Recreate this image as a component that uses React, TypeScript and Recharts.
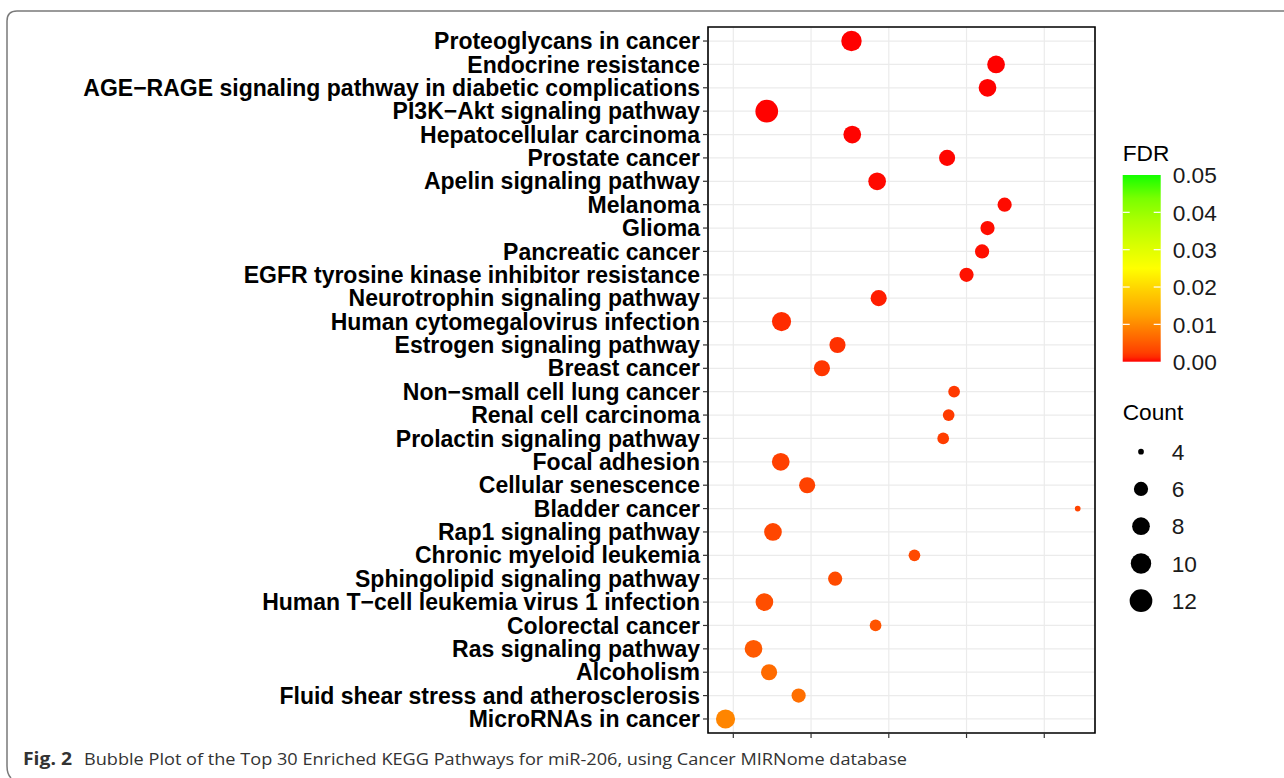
import React from 'react';
import { ScatterChart, Scatter, XAxis, YAxis, ZAxis, CartesianGrid, ReferenceArea } from 'recharts';

// KEGG pathways, top to bottom as in the figure
const pathways = [
  'Proteoglycans in cancer',
  'Endocrine resistance',
  'AGE−RAGE signaling pathway in diabetic complications',
  'PI3K−Akt signaling pathway',
  'Hepatocellular carcinoma',
  'Prostate cancer',
  'Apelin signaling pathway',
  'Melanoma',
  'Glioma',
  'Pancreatic cancer',
  'EGFR tyrosine kinase inhibitor resistance',
  'Neurotrophin signaling pathway',
  'Human cytomegalovirus infection',
  'Estrogen signaling pathway',
  'Breast cancer',
  'Non−small cell lung cancer',
  'Renal cell carcinoma',
  'Prolactin signaling pathway',
  'Focal adhesion',
  'Cellular senescence',
  'Bladder cancer',
  'Rap1 signaling pathway',
  'Chronic myeloid leukemia',
  'Sphingolipid signaling pathway',
  'Human T−cell leukemia virus 1 infection',
  'Colorectal cancer',
  'Ras signaling pathway',
  'Alcoholism',
  'Fluid shear stress and atherosclerosis',
  'MicroRNAs in cancer',
];

// x position (gene ratio, axis labels are cropped off in the source)
const geneRatio = [
  0.0352, 0.0538, 0.0527, 0.0243, 0.0353, 0.0475, 0.0385, 0.0549, 0.0527, 0.0520,
  0.0500, 0.0387, 0.0262, 0.0334, 0.0314, 0.0484, 0.0477, 0.0470, 0.0261, 0.0295,
  0.0643, 0.0251, 0.0433, 0.0331, 0.0240, 0.0383, 0.0226, 0.0246, 0.0284, 0.0190,
];

const counts = [10, 8, 8, 12, 8, 7, 8, 6, 6, 6, 6, 7, 9, 7, 7, 5, 5, 5, 8, 7, 4, 8, 5, 6, 8, 5, 8, 7, 6, 9];

const fdr = [
  0.000012, 0.00002, 0.000031, 0.000045, 0.00008, 0.00015, 0.00025, 0.00032, 0.00038, 0.00045,
  0.00052, 0.00085, 0.0013, 0.0016, 0.0019, 0.0021, 0.0022, 0.0023, 0.0025, 0.0027,
  0.0029, 0.0031, 0.0034, 0.0036, 0.0039, 0.0045, 0.005, 0.0068, 0.0072, 0.0095,
];

const xTicks = [0.02, 0.03, 0.04, 0.05, 0.06];
const fdrBreaks = [0.05, 0.04, 0.03, 0.02, 0.01, 0.0];
const countBreaks = [4, 6, 8, 10, 12];

// red -> yellow -> green, roughly as ggplot interpolates it
const fdrStops: [number, number, number, number][] = [
  [0, 255, 0, 0],
  [0.00125, 255, 43, 0],
  [0.0025, 255, 64, 0],
  [0.00625, 255, 102, 0],
  [0.0125, 255, 161, 0],
  [0.01875, 255, 206, 0],
  [0.025, 255, 255, 0],
  [0.03125, 216, 255, 0],
  [0.0375, 174, 255, 0],
  [0.04375, 121, 255, 0],
  [0.05, 20, 255, 0],
];

function fdrColor(v: number) {
  for (let i = 1; i < fdrStops.length; i++) {
    const a = fdrStops[i - 1];
    const b = fdrStops[i];
    if (v <= b[0]) {
      const t = (v - a[0]) / (b[0] - a[0]);
      const c = [1, 2, 3].map((k) => Math.round(a[k] + (b[k] - a[k]) * t));
      return `rgb(${c[0]},${c[1]},${c[2]})`;
    }
  }
  return 'rgb(20,255,0)';
}

// ZAxis gives count - 4; diameter grows with sqrt like scale_size
const bubbleDiameter = (s: number) => 5.7 + 6.01 * Math.sqrt(Math.max(s, 0));

const points = pathways.map((name, i) => ({
  name,
  rank: i + 1,
  ratio: geneRatio[i],
  count: counts[i],
  fdr: fdr[i],
}));

const xDomain = [0.016744, 0.066525];
const yDomain = [0.4, 30.6];
const yTicks = pathways.map((_, i) => i + 1);

const font = '"Liberation Sans", Arial, sans-serif';

const Bubble = (props: any) => {
  const { cx, cy, payload } = props;
  const s = Number.isFinite(props.size) ? props.size : payload.count - 4;
  return <circle cx={cx} cy={cy} r={bubbleDiameter(s) / 2} fill={fdrColor(payload.fdr)} />;
};

const barTop = 175;
const barBottom = 361.7;
const barY = (v: number) => barBottom - (v / 0.05) * (barBottom - barTop);

export default function App() {
  return (
    <div style={{ position: 'absolute', left: 0, top: 0, width: 1284, height: 778, background: '#fff' }}>
      <div style={{ position: 'absolute', left: 0, top: 0 }}>
        <ScatterChart width={1284} height={778} margin={{ top: 27, right: 189, bottom: 0, left: 0 }}>
          <CartesianGrid stroke="#EBEBEB" strokeWidth={1.2} />
          <XAxis
            type="number"
            dataKey="ratio"
            domain={xDomain}
            allowDataOverflow
            ticks={xTicks}
            tickFormatter={() => ''}
            tickSize={5}
            tickLine={{ stroke: '#333', strokeWidth: 1.2 }}
            axisLine={false}
            height={45}
          />
          <YAxis
            type="number"
            dataKey="rank"
            domain={yDomain}
            allowDataOverflow
            reversed
            ticks={yTicks}
            interval={0}
            tickFormatter={(v: number) => pathways[v - 1]}
            tick={{ fill: '#000', fontSize: 23, fontWeight: 'bold', fontFamily: font }}
            tickSize={5}
            tickMargin={3}
            tickLine={{ stroke: '#333', strokeWidth: 1.2 }}
            axisLine={false}
            width={708}
          />
          <ZAxis type="number" dataKey="count" domain={[4, 12]} range={[0, 8]} />
          <Scatter data={points} shape={Bubble} isAnimationActive={false} />
          <ReferenceArea
            x1={xDomain[0]}
            x2={xDomain[1]}
            y1={yDomain[0]}
            y2={yDomain[1]}
            fill="none"
            fillOpacity={0}
            stroke="#000"
            strokeWidth={1.6}
          />
        </ScatterChart>
      </div>

      <svg width={1284} height={778} style={{ position: 'absolute', left: 0, top: 0, pointerEvents: 'none' }}>
        <path d="M1284,11 H17 Q7,11 7,21 V766 Q7,774 11,778" fill="none" stroke="#7a7a7a" strokeWidth={1.5} />

        <defs>
          <linearGradient id="fdrGrad" x1="0" y1="0" x2="0" y2="1">
            {[...fdrStops].reverse().map(([v, r, g, b]) => (
              <stop key={v} offset={`${((0.05 - v) / 0.05) * 100}%`} stopColor={`rgb(${r},${g},${b})`} />
            ))}
          </linearGradient>
        </defs>

        <text x={1122.7} y={161} fontFamily={font} fontSize={22.7} fill="#000">FDR</text>
        <rect x={1122.7} y={barTop} width={38} height={barBottom - barTop} fill="url(#fdrGrad)" />
        {fdrBreaks.filter((v) => v > 0 && v < 0.05).map((v) => (
          <g key={v}>
            <line x1={1122.7} x2={1129.7} y1={barY(v)} y2={barY(v)} stroke="#fff" strokeWidth={1.2} />
            <line x1={1153.7} x2={1160.7} y1={barY(v)} y2={barY(v)} stroke="#fff" strokeWidth={1.2} />
          </g>
        ))}
        {fdrBreaks.map((v) => (
          <text key={v} x={1172.7} y={barY(v)} dy="0.36em" fontFamily={font} fontSize={22.7} fill="#1a1a1a">
            {v.toFixed(2)}
          </text>
        ))}

        <text x={1122.7} y={419.5} fontFamily={font} fontSize={22.7} fill="#000">Count</text>
        {countBreaks.map((c, i) => (
          <g key={c}>
            <circle cx={1141} cy={451.7 + i * 37.25} r={bubbleDiameter(c - 4) / 2} fill="#000" />
            <text x={1171.7} y={451.7 + i * 37.25} dy="0.36em" fontFamily={font} fontSize={22.7} fill="#1a1a1a">
              {c}
            </text>
          </g>
        ))}

        <text x={23} y={765} fontFamily='"Open Sans", sans-serif' fontSize={17} fontWeight="bold" fill="#333" textLength={49} lengthAdjust="spacingAndGlyphs">
          Fig. 2
        </text>
        <text x={84} y={765} fontFamily='"Open Sans", sans-serif' fontSize={17} fill="#333" textLength={823} lengthAdjust="spacingAndGlyphs">
          Bubble Plot of the Top 30 Enriched KEGG Pathways for miR-206, using Cancer MIRNome database
        </text>
      </svg>
    </div>
  );
}
